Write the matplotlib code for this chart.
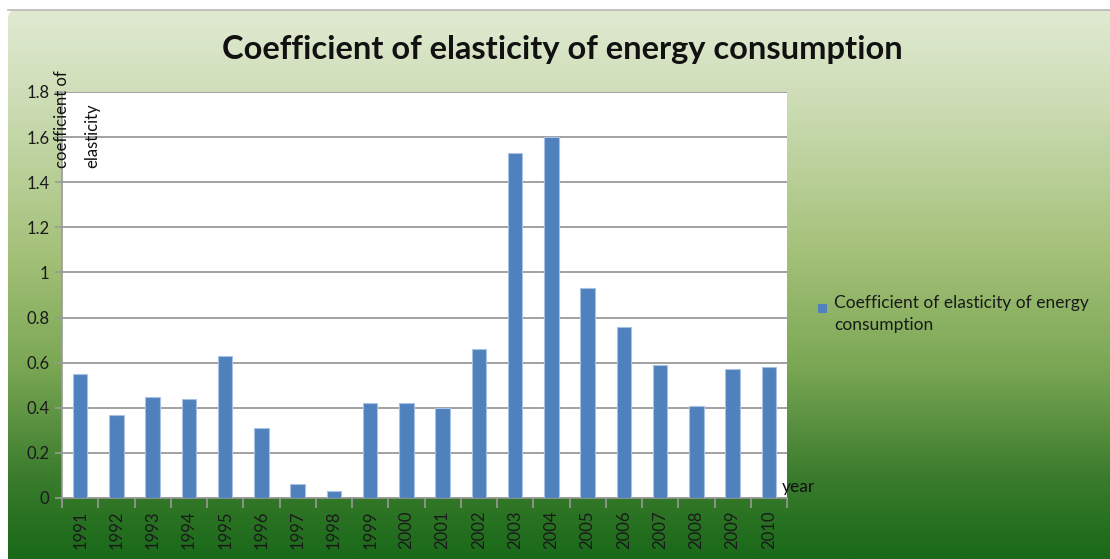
#!/usr/bin/env python3
"""Bar chart of the coefficient of elasticity of energy consumption, 1991-2010."""

import matplotlib

matplotlib.use("Agg")
import matplotlib.pyplot as plt
import numpy as np
from matplotlib.colors import LinearSegmentedColormap
from matplotlib.patches import FancyBboxPatch

years = [str(y) for y in range(1991, 2011)]
elasticity = [0.55, 0.37, 0.45, 0.44, 0.63, 0.31, 0.06, 0.03, 0.42, 0.42,
              0.40, 0.66, 1.53, 1.60, 0.93, 0.76, 0.59, 0.41, 0.57, 0.58]
y_ticks = [0, 0.2, 0.4, 0.6, 0.8, 1, 1.2, 1.4, 1.6, 1.8]
y_tick_labels = ["0", "0.2", "0.4", "0.6", "0.8", "1", "1.2", "1.4", "1.6", "1.8"]

TITLE = "Coefficient of elasticity of energy consumption"
SERIES = "Coefficient of elasticity of energy\nconsumption"
FONT = ["Lato", "DejaVu Sans"]

W, H = 1110, 559
plt.rcParams["font.family"] = FONT

fig = plt.figure(figsize=(W / 100, H / 100), dpi=100)
fig.patch.set_facecolor("white")

# green backdrop, light at the top fading to dark green at the bottom
bg = fig.add_axes([0, 0, 1, 1], zorder=0)
bg.set_xlim(0, W)
bg.set_ylim(H, 0)
bg.axis("off")
cmap = LinearSegmentedColormap.from_list(
    "panel",
    [(0.0, "#e0ead2"), (0.15, "#cfdeb8"), (0.45, "#a3c077"),
     (0.65, "#7aa754"), (0.85, "#3b7c2d"), (1.0, "#196919")],
)
grad = np.linspace(0, 1, 256).reshape(-1, 1)
img = bg.imshow(grad, cmap=cmap, aspect="auto", extent=(8, W, H, 10), zorder=1)
clip = FancyBboxPatch((8, 10), W, H, boxstyle="round,pad=0,rounding_size=8",
                      transform=bg.transData, facecolor="none", edgecolor="none")
bg.add_patch(clip)
img.set_clip_path(clip)
bg.plot([8, W], [10, 10], color="#b8b8b8", lw=1.2, zorder=2)

# plot area
left, right, top, bottom = 62, 787, 92, 498
ax = fig.add_axes([left / W, 1 - bottom / H, (right - left) / W, (bottom - top) / H], zorder=2)
ax.set_facecolor("white")

x = np.arange(len(years))
ax.bar(x, elasticity, width=0.4, color="#4f81bd", edgecolor="#a9c1e3", linewidth=0.8, zorder=3)

ax.set_xlim(-0.5, len(years) - 0.5)
ax.set_ylim(0, 1.8)
ax.set_yticks(y_ticks)
ax.set_yticklabels(y_tick_labels)
ax.yaxis.grid(True, color="#9a9a9a", linewidth=1.3, zorder=1)
ax.set_axisbelow(True)

ax.set_xticks(x)
ax.set_xticklabels(years, rotation=90, va="top")
ax.set_xticks(np.arange(len(years) + 1) - 0.5, minor=True)
ax.tick_params(axis="x", which="major", length=0, pad=9, labelsize=12, labelcolor="#1a1a1a")
ax.tick_params(axis="x", which="minor", length=7, width=1.2, color="#9a9a9a", direction="out")
ax.tick_params(axis="y", length=5, width=1.2, color="#9a9a9a", labelsize=12,
               labelcolor="#1a1a1a", pad=4)

for side in ("top", "right"):
    ax.spines[side].set_visible(False)
for side in ("left", "bottom"):
    ax.spines[side].set_color("#9a9a9a")
    ax.spines[side].set_linewidth(1.2)

fig.text(562 / W, 1 - 50 / H, TITLE, ha="center", va="center",
         fontsize=23.5, fontweight="bold", color="#111111")

fig.text(54 / W, 1 - 168 / H, "coefficient of\nelasticity", rotation=90,
         ha="left", va="bottom", multialignment="left", linespacing=2.1,
         fontsize=12, color="#111111")

fig.text(782 / W, 1 - 487 / H, "year", ha="left", va="center", fontsize=12.5, color="#111111")

# legend entry
fig.patches.append(plt.Rectangle((818 / W, 1 - 313 / H), 9 / W, 9 / H,
                                 transform=fig.transFigure, facecolor="#4f81bd",
                                 edgecolor="none", zorder=3))
fig.text(834 / W, 1 - 295 / H, SERIES, ha="left", va="top", fontsize=12.5,
         linespacing=1.45, color="#1a1a1a")

fig.savefig("out.png", dpi=100, facecolor=fig.get_facecolor())
